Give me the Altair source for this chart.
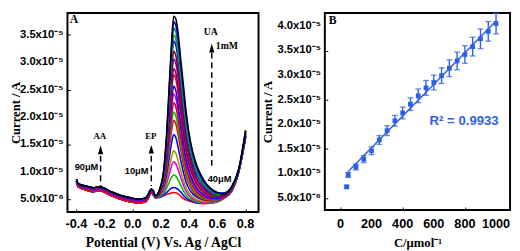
import altair as alt
import pandas as pd

# ---------------- Panel A : DPV curves (current in µA) ----------------
XB = [-0.4, -0.39, -0.37, -0.33, -0.28, -0.24, -0.22, -0.19, -0.15, -0.10,
      -0.05, 0.0, 0.05, 0.09, 0.11, 0.13, 0.145]
base_lo = [8.0, 7.3, 7.0, 6.65, 6.35, 6.55, 6.45, 6.1, 5.6, 5.1, 4.7, 4.4, 4.3, 4.5, 5.2, 6.1, 5.8]
base_mid = [8.3, 7.6, 7.3, 7.0, 6.7, 6.9, 6.8, 6.45, 5.95, 5.45, 5.05, 4.75, 4.65, 4.85, 5.55, 6.45, 6.15]
base_hi = [8.6, 7.9, 7.6, 7.35, 7.05, 7.25, 7.15, 6.8, 6.3, 5.8, 5.4, 5.1, 5.0, 5.2, 5.9, 6.8, 6.5]

XP = [0.16, 0.19, 0.22, 0.24, 0.26, 0.275, 0.29, 0.305, 0.32, 0.34, 0.36, 0.38,
      0.41, 0.45, 0.5, 0.55, 0.6, 0.65, 0.7, 0.75, 0.8]
c00 = [5.2, 5.3, 5.6, 5.85, 6.0, 6.1, 6.2, 6.15, 5.95, 5.55, 5.1, 4.8, 4.55, 4.3, 4.2, 4.25, 4.5, 5.2, 6.4, 9.8, 17.6]
c01 = [5.21, 5.35, 5.77, 6.22, 6.70, 7.04, 7.1, 7.03, 6.78, 6.27, 5.65, 5.13, 4.71, 4.38, 4.21, 4.26, 4.5, 5.2, 6.4, 9.8, 16.2]
c02 = [5.24, 5.45, 6.11, 7.01, 8.16, 8.99, 9.4, 9.19, 8.56, 7.51, 6.46, 5.64, 4.98, 4.51, 4.29, 4.31, 4.53, 5.21, 6.4, 9.8, 16.4]
c03 = [5.27, 5.56, 6.47, 7.82, 9.68, 11.03, 11.8, 11.45, 10.47, 8.90, 7.42, 6.30, 5.35, 4.74, 4.42, 4.39, 4.59, 5.23, 6.41, 9.8, 16.1]
c04 = [5.29, 5.65, 6.77, 8.50, 10.95, 12.73, 13.8, 13.35, 12.10, 10.12, 8.29, 6.90, 5.72, 4.97, 4.57, 4.50, 4.65, 5.26, 6.42, 9.8, 16.3]
c05 = [5.33, 5.79, 7.22, 9.52, 12.86, 15.28, 16.8, 16.23, 14.63, 12.08, 9.74, 7.95, 6.42, 5.41, 4.87, 4.69, 4.76, 5.32, 6.45, 9.82, 16.6]
c06 = [5.36, 5.90, 7.61, 10.41, 14.51, 17.49, 19.4, 18.74, 16.90, 13.90, 11.15, 9.01, 7.14, 5.74, 5.00, 4.75, 4.81, 5.37, 6.5, 9.85, 17.4]
c07 = [5.38, 5.97, 7.84, 10.92, 15.46, 18.77, 20.9, 20.20, 18.24, 15.01, 12.04, 9.71, 7.62, 6.05, 5.19, 4.87, 4.88, 5.42, 6.55, 9.88, 16.7]
c08 = [5.40, 6.05, 8.09, 11.49, 16.54, 20.21, 22.6, 21.86, 19.78, 16.29, 13.06, 10.48, 8.17, 6.39, 5.41, 5.01, 4.96, 5.46, 6.6, 9.9, 16.3]
c09 = [5.42, 6.12, 8.33, 12.04, 17.56, 21.57, 24.2, 23.44, 21.26, 17.54, 14.10, 11.29, 8.76, 6.78, 5.64, 5.15, 5.05, 5.53, 6.65, 9.92, 16.9]
c10 = [5.44, 6.18, 8.54, 12.51, 18.45, 22.76, 25.6, 24.82, 22.55, 18.65, 15.01, 12.02, 9.27, 7.10, 5.84, 5.28, 5.13, 5.57, 6.7, 9.95, 16.4]
c11 = [5.46, 6.28, 8.86, 13.23, 19.78, 24.55, 27.7, 26.92, 24.57, 20.43, 16.53, 13.23, 10.16, 7.69, 6.21, 5.52, 5.29, 5.65, 6.78, 10.0, 17.0]
c12 = [5.47, 6.33, 9.02, 13.60, 20.48, 25.48, 28.8, 28.01, 25.63, 21.36, 17.30, 13.86, 10.62, 7.98, 6.41, 5.63, 5.36, 5.7, 6.82, 10.02, 16.5]
c13 = [5.50, 6.41, 9.29, 14.21, 21.62, 27.01, 30.6, 29.82, 27.43, 22.99, 18.72, 15.01, 11.49, 8.56, 6.78, 5.85, 5.49, 5.79, 6.9, 10.05, 17.1]
c14 = [5.51, 6.47, 9.50, 14.69, 22.51, 28.20, 32.0, 31.22, 28.80, 24.23, 19.80, 15.89, 12.15, 8.99, 7.05, 6.04, 5.60, 5.85, 6.95, 10.08, 16.6]
c15 = [5.53, 6.56, 9.79, 15.34, 23.72, 29.82, 33.9, 33.15, 30.75, 26.03, 21.39, 17.20, 13.14, 9.66, 7.48, 6.30, 5.77, 5.95, 7.02, 10.1, 17.2]
c16 = [5.55, 6.61, 9.95, 15.71, 24.42, 30.75, 35.0, 34.28, 31.90, 27.13, 22.37, 18.03, 13.77, 10.08, 7.75, 6.46, 5.89, 6.01, 7.06, 10.12, 16.7]
c17 = [5.56, 6.66, 10.13, 16.12, 25.18, 31.77, 36.2, 35.51, 33.13, 28.25, 23.35, 18.84, 14.36, 10.47, 8.02, 6.65, 5.96, 6.07, 7.1, 10.15, 17.3]
c18 = [5.58, 6.71, 10.31, 16.53, 25.94, 32.79, 37.4, 36.71, 34.40, 29.46, 24.44, 19.77, 15.09, 10.97, 8.32, 6.84, 6.09, 6.14, 7.15, 10.2, 16.8]
c19 = [5.6, 6.8, 10.5, 17.0, 26.6, 33.6, 38.4, 37.9, 35.6, 30.5, 25.5, 20.5, 15.3, 11.4, 8.6, 7.0, 6.2, 5.9, 7.2, 10.4, 17.5]

curves = [c00, c01, c02, c03, c04, c05, c06, c07, c08, c09,
          c10, c11, c12, c13, c14, c15, c16, c17, c18, c19]
curve_base = ["lo"] * 7 + ["mid"] * 7 + ["hi"] * 6
curve_colors = ["#ff0000", "#0000ff", "#00c000", "#e000e0", "#999900",
                "#0000ff", "#ff0000", "#00c000", "#cc0000", "#cc00cc",
                "#0000ff", "#ff0000", "#800040", "#8000c0", "#a00000",
                "#0000ff", "#00b000", "#008b8b", "#0000ff", "#000000"]

# annotations (potential V, current µA)
ann_serif_txt = ["AA", "EP", "UA"]
ann_serif_x = [-0.235, 0.127, 0.553]
ann_serif_y = [16.6, 16.6, 35.5]
ann_serif_size = [9, 9, 10]
ann_mm_txt = ["1mM"]
ann_mm_x = [0.589]
ann_mm_y = [33.0]
ann_sans_txt = ["90μM", "10μM", "40μM"]
ann_sans_x = [-0.329, 0.027, 0.615]
ann_sans_y = [10.8, 10.06, 8.65]
arrow_x = [-0.229, 0.131, 0.56]
arrow_y = [14.0, 14.1, 32.6]
dash_x = [-0.229, 0.131, 0.56]
dash_top = [12.9, 12.9, 31.75]
dash_bot = [7.25, 7.4, 10.9]

# ---------------- Panel B : calibration ----------------
conc = [40, 50, 100, 150, 200, 250, 300, 350, 400, 450, 500, 550, 600, 650,
        700, 750, 800, 850, 900, 950, 1000]
cur = [7.26, 9.7, 11.3, 12.9, 14.6, 16.8, 18.7, 20.7, 22.3, 24.1, 25.8, 27.4,
       28.5, 29.9, 31.4, 32.9, 34.2, 35.8, 37.4, 38.9, 40.5]
err = [0.3, 0.5, 0.6, 0.7, 0.8, 0.9, 1.0, 1.1, 1.2, 1.3, 1.4, 1.5, 1.5, 1.6,
       1.7, 1.8, 1.8, 1.9, 2.0, 2.0, 2.1]
r2_text = "R² = 0.9933"

# tick labels (major) and tick marks (major + minor)
yA_ticks = [5e-6, 1e-5, 1.5e-5, 2e-5, 2.5e-5, 3e-5, 3.5e-5]
yA_labels = ["5.0x10⁻⁶", "1.0x10⁻⁵", "1.5x10⁻⁵", "2.0x10⁻⁵", "2.5x10⁻⁵", "3.0x10⁻⁵", "3.5x10⁻⁵"]
yB_ticks = [5e-6, 1e-5, 1.5e-5, 2e-5, 2.5e-5, 3e-5, 3.5e-5, 4e-5]
yB_labels = yA_labels + ["4.0x10⁻⁵"]
xA_ticks = [-0.4, -0.2, 0.0, 0.2, 0.4, 0.6, 0.8]
xA_labels = ["-0.4", "-0.2", "0.0", "0.2", "0.4", "0.6", "0.8"]
xB_ticks = [0, 200, 400, 600, 800, 1000]
xB_labels = ["0", "200", "400", "600", "800", "1000"]
yA_marks = [5e-6, 7.5e-6, 1e-5, 1.25e-5, 1.5e-5, 1.75e-5, 2e-5, 2.25e-5, 2.5e-5,
            2.75e-5, 3e-5, 3.25e-5, 3.5e-5, 3.75e-5]
yB_marks = yA_marks + [4e-5, 4.25e-5]
xA_marks = [-0.4, -0.3, -0.2, -0.1, 0.0, 0.1, 0.2, 0.3, 0.4, 0.5, 0.6, 0.7, 0.8]
xB_marks = [0, 100, 200, 300, 400, 500, 600, 700, 800, 900, 1000]

# ---------------- build tables ----------------
U = 1e-6
bases = {"lo": base_lo, "mid": base_mid, "hi": base_hi}
rows = []
for k, (vals, bname) in enumerate(zip(curves, curve_base)):
    for i, (x, y) in enumerate(zip(XB + XP, bases[bname] + vals)):
        rows.append({"curve": f"c{k:02d}", "E": x, "I": y * U, "o": i})
dfA = pd.DataFrame(rows)
curve_names = [f"c{k:02d}" for k in range(len(curves))]

df_serif = pd.DataFrame({"E": ann_serif_x, "I": [v * U for v in ann_serif_y],
                         "t": ann_serif_txt, "s": ann_serif_size})
df_mm = pd.DataFrame({"E": ann_mm_x, "I": [v * U for v in ann_mm_y], "t": ann_mm_txt})
df_sans = pd.DataFrame({"E": ann_sans_x, "I": [v * U for v in ann_sans_y], "t": ann_sans_txt})
df_arrow = pd.DataFrame({"E": arrow_x, "I": [v * U for v in arrow_y]})
df_dash = pd.DataFrame({"E": dash_x, "I": [v * U for v in dash_top],
                        "I2": [v * U for v in dash_bot]})
df_labA = pd.DataFrame({"E": [-0.447], "I": [37.8 * U], "t": ["A"]})
df_xlabA = pd.DataFrame({"E": xA_ticks, "t": xA_labels})
df_ylabA = pd.DataFrame({"I": yA_ticks, "t": yA_labels})

dfB = pd.DataFrame({"conc": conc, "cur": [v * U for v in cur],
                    "lo": [(v - e) * U for v, e in zip(cur, err)],
                    "hi": [(v + e) * U for v, e in zip(cur, err)]})
df_labB = pd.DataFrame({"conc": [-75], "cur": [41.15 * U], "t": ["B"]})
df_r2 = pd.DataFrame({"conc": [795], "cur": [20.6 * U], "t": [r2_text]})
df_xlabB = pd.DataFrame({"conc": xB_ticks, "t": xB_labels})
df_ylabB = pd.DataFrame({"cur": yB_ticks, "t": yB_labels})

SANS = "Liberation Sans"
SERIF = "Liberation Serif"
BLUE = "#2f5fe6"


# axes: ticks only (drawn just inside the frame), labels are text marks below
def y_axis(title_x, ticks):
    return alt.Axis(values=ticks, labels=False, offset=-3,
                    title="Current / A", titleFont=SERIF, titleFontSize=13,
                    titleFontWeight="bold", titleX=title_x, titleColor="black",
                    tickColor="black", tickSize=3, domain=False, grid=False)


def x_axis(title, ticks, title_y, size):
    return alt.Axis(values=ticks, labels=False, offset=-3, title=title, titleFont=SERIF,
                    titleFontSize=size, titleFontWeight="bold", titleColor="black",
                    titleY=title_y, titleBaseline="top",
                    tickColor="black", tickSize=3, domain=False, grid=False)


xA = alt.Scale(domain=[-0.464, 0.892], nice=False, zero=False)
yA = alt.Scale(domain=[2.65e-6, 3.9e-5], nice=False, zero=False)

WA, HA = 196, 204

lines = alt.Chart(dfA).mark_line(strokeWidth=1.6, interpolate="monotone", clip=True).encode(
    x=alt.X("E:Q", scale=xA, axis=x_axis("Potential (V) Vs. Ag / AgCl", xA_marks, 27, 14)),
    y=alt.Y("I:Q", scale=yA, axis=y_axis(-49.5, yA_marks)),
    color=alt.Color("curve:N", scale=alt.Scale(domain=curve_names, range=curve_colors), legend=None),
    order="o:Q",
)
dashes = alt.Chart(df_dash).mark_rule(strokeDash=[6, 4], strokeWidth=1.5, color="black").encode(
    x="E:Q", y="I:Q", y2="I2:Q")
arrows = alt.Chart(df_arrow).mark_point(shape="M0,-1L0.6,1L-0.6,1Z", filled=True, size=80,
                                        color="black", opacity=1).encode(x="E:Q", y="I:Q")
t_serif = alt.Chart(df_serif).mark_text(font=SERIF, fontWeight="bold", color="black").encode(
    x="E:Q", y="I:Q", text="t:N", size=alt.Size("s:Q", scale=None, legend=None))
t_mm = alt.Chart(df_mm).mark_text(font=SERIF, fontWeight="bold", fontSize=10, align="left",
                                  color="black").encode(x="E:Q", y="I:Q", text="t:N")
t_sans = alt.Chart(df_sans).mark_text(font=SANS, fontWeight="bold", fontSize=9.5,
                                      color="black").encode(x="E:Q", y="I:Q", text="t:N")
t_labA = alt.Chart(df_labA).mark_text(font=SERIF, fontWeight="bold", fontSize=12, align="left",
                                      color="black").encode(x="E:Q", y="I:Q", text="t:N")
xlabA = alt.Chart(df_xlabA).mark_text(font=SANS, fontWeight="bold", fontSize=13, baseline="top",
                                      dy=7, color="black").encode(
    x="E:Q", y=alt.value(HA), text="t:N")
ylabA = alt.Chart(df_ylabA).mark_text(font=SANS, fontWeight="bold", fontSize=11.5, align="right",
                                      baseline="middle", dx=-4, color="black").encode(
    x=alt.value(0), y="I:Q", text="t:N")

panelA = alt.layer(lines, dashes, arrows, t_serif, t_mm, t_sans, t_labA, xlabA, ylabA).properties(
    width=WA, height=HA)

# ---- panel B ----
xB = alt.Scale(domain=[-100, 1090], nice=False, zero=False)
yB = alt.Scale(domain=[2.56e-6, 4.264e-5], nice=False, zero=False)
WB, HB = 190, 202

baseB = alt.Chart(dfB)
bars = baseB.mark_rule(color=BLUE, strokeWidth=1.4).encode(
    x=alt.X("conc:Q", scale=xB, axis=x_axis("C/μmol⁻¹", xB_marks, 30, 13)),
    y=alt.Y("lo:Q", scale=yB, axis=y_axis(-55, yB_marks)), y2="hi:Q")
cap_lo = baseB.mark_tick(color=BLUE, orient="horizontal", size=6, thickness=1.4).encode(
    x="conc:Q", y="lo:Q")
cap_hi = baseB.mark_tick(color=BLUE, orient="horizontal", size=6, thickness=1.4).encode(
    x="conc:Q", y="hi:Q")
pts = baseB.mark_point(shape="square", filled=True, size=24, color=BLUE, opacity=1).encode(
    x="conc:Q", y="cur:Q")
fit = baseB.transform_filter("datum.conc >= 50").transform_regression(
    "conc", "cur", extent=[50, 1000]).mark_line(color=BLUE, strokeWidth=1.5).encode(
    x="conc:Q", y="cur:Q")
t_r2 = alt.Chart(df_r2).mark_text(font=SANS, fontWeight="bold", fontSize=13.5,
                                  color=BLUE).encode(x="conc:Q", y="cur:Q", text="t:N")
t_labB = alt.Chart(df_labB).mark_text(font=SERIF, fontWeight="bold", fontSize=12, align="left",
                                      color="black").encode(x="conc:Q", y="cur:Q", text="t:N")
xlabB = alt.Chart(df_xlabB).mark_text(font=SANS, fontWeight="bold", fontSize=13, baseline="top",
                                      dy=9, color="black").encode(
    x="conc:Q", y=alt.value(HB), text="t:N")
ylabB = alt.Chart(df_ylabB).mark_text(font=SANS, fontWeight="bold", fontSize=11.5, align="right",
                                      baseline="middle", dx=-4, color="black").encode(
    x=alt.value(0), y="cur:Q", text="t:N")

panelB = alt.layer(bars, cap_lo, cap_hi, fit, pts, t_r2, t_labB, xlabB, ylabB).properties(
    width=WB, height=HB)

chart = alt.hconcat(panelA, panelB, spacing=1).properties(
    padding={"left": 0, "top": 0, "right": 0, "bottom": 0},
    background="white",
).configure_view(stroke="black", strokeWidth=2)

chart.save("out.html", embed_options={"renderer": "svg", "actions": False})
